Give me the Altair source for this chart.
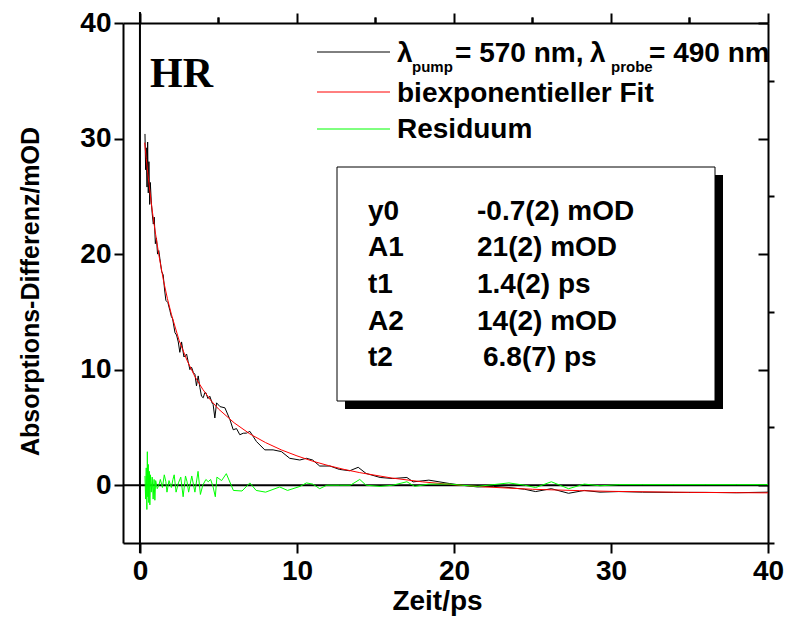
import altair as alt
import pandas as pd

W, H = 645, 520
FONT = "Liberation Sans"

# measured transient (black)
t_data = [0.32, 0.36, 0.40, 0.45, 0.49, 0.53, 0.57, 0.62, 0.66, 0.72, 0.78, 0.85, 0.91, 0.98,
          1.05, 1.12, 1.2, 1.27, 1.38, 1.48, 1.57, 1.65, 1.78, 1.91, 2.0, 2.08, 2.23, 2.33,
          2.44, 2.54, 2.65, 2.8, 2.97, 3.07, 3.18, 3.29, 3.4, 3.5, 3.6, 3.71, 3.82, 3.92,
          4.03, 4.13, 4.2, 4.33, 4.45, 4.6, 4.66, 4.77, 4.88, 5.1, 5.41, 5.73, 5.94, 6.15,
          6.36, 6.58, 6.79, 7.0, 7.42, 7.95, 8.48, 9.01, 9.54, 10.18, 10.6, 11.0, 11.45,
          12.1, 12.7, 13.36, 13.9, 14.4, 15.3, 16.1, 17.0, 17.4, 18.4, 19.7, 20.5, 21.5,
          22.5, 23.5, 24.5, 25.2, 26.2, 27.3, 28.3, 29.3, 30.5, 32, 34, 36, 38, 40]
v_data = [30.4, 27.3, 29.2, 25.8, 29.7, 25.3, 28.0, 24.3, 26.2, 24.6, 23.5, 22.6, 23.2, 20.9,
          21.4, 20.0, 20.3, 19.6, 18.5, 18.2, 16.9, 16.0, 15.8, 15.1, 14.6, 14.4, 13.2, 13.0,
          12.4, 11.5, 12.4, 11.1, 11.35, 10.7, 10.0, 10.2, 9.75, 9.6, 8.6, 9.46, 8.44, 7.7,
          7.57, 8.0, 8.0, 7.5, 7.7, 7.1, 6.99, 5.82, 7.13, 6.8, 6.7, 5.68, 4.8, 4.9,
          4.37, 4.5, 4.51, 4.66, 3.78, 3.06, 3.06, 2.91, 2.33, 2.18, 2.33, 2.18, 1.66,
          1.66, 1.37, 1.25, 1.55, 1.02, 0.67, 0.58, 0.67, 0.29, 0.44, 0.15, 0.0, -0.15,
          -0.1, -0.2, -0.35, -0.55, -0.3, -0.7, -0.45, -0.6, -0.55, -0.6, -0.62, -0.62, -0.65, -0.6]

# biexponential fit (red)
t_fit = [0.3, 0.4, 0.5, 0.6, 0.75, 0.9, 1.0, 1.2, 1.5, 1.75, 2.0, 2.5, 3.0, 3.5, 4.0, 4.5,
         5, 6, 7, 8, 9, 10, 11, 12, 13, 14, 16, 18, 20, 22, 25, 28, 30, 35, 40]
v_fit = [29.65, 28.28, 27.0, 25.8, 24.1, 22.6, 21.7, 19.95, 17.7, 16.14, 14.8, 12.5, 10.8, 9.4,
         8.3, 7.36, 6.6, 5.4, 4.44, 3.69, 3.06, 2.54, 2.08, 1.70, 1.37, 1.09, 0.63, 0.29, 0.04,
         -0.15, -0.35, -0.47, -0.53, -0.62, -0.66]

# residual (green)
t_res = [0.32, 0.36, 0.40, 0.44, 0.47, 0.50, 0.53, 0.56, 0.6, 0.63, 0.67, 0.72, 0.78, 0.84,
         0.9, 0.95, 1.0, 1.1, 1.2, 1.3, 1.43, 1.55, 1.65, 1.72, 1.85, 2.0, 2.1, 2.18, 2.3,
         2.45, 2.6, 2.75, 2.9, 3.0, 3.1, 3.3, 3.5, 3.7, 3.85, 4.0, 4.2, 4.35, 4.5, 4.65, 4.8,
         4.9, 5.2, 5.5, 5.95, 6.5, 7.0, 7.4, 8.0, 8.9, 9.4, 10.2, 10.6, 11.0, 11.45, 11.9,
         12.7, 13.4, 14.0, 14.4, 15.3, 16.1, 17.0, 17.5, 18.4, 19.7, 20.5, 21.5, 22.5, 23.5,
         24.5, 25.2, 26.2, 27.3, 28.3, 29.3, 30.5, 32, 34, 36, 38, 40]
v_res = [0.8, -1.2, 1.5, -2.1, 2.9, -1.0, 1.8, -1.5, 1.2, -1.7, 0.9, -0.6, 0.7, -1.2,
         0.5, -1.3, 0.4, -0.3, 0.0, 0.5, -0.2, 0.9, 0.3, -0.6, 0.4, -0.2, 0.5, 0.9, -0.6,
         0.2, 0.7, -1.0, 0.8, 0.3, -0.6, 0.8, -0.6, 1.2, -0.8, 0.0, 0.5, 0.3, 0.5, -0.1, -1.0,
         0.7, 0.4, 1.0, -0.45, -0.5, 0.2, -0.45, -0.6, -0.15, -0.45, -0.1, 0.2, 0.1, -0.3, 0.0,
         0.0, 0.0, 0.5, 0.0, -0.1, 0.0, 0.3, -0.1, 0.1, 0.1, 0.0, -0.1, 0.05, 0.2,
         0.0, -0.2, 0.3, -0.3, 0.1, -0.05, 0.05, 0.05, 0.05, 0.05, 0.05, 0.05]

major_x = [0, 10, 20, 30, 40]
minor_x = [5, 15, 25, 35]
major_y = [0, 10, 20, 30, 40]
minor_y = [-5, 5, 15, 25, 35]

x_title = "Zeit/ps"
y_title = "Absorptions-Differenz/mOD"
panel_label = "HR"
legend_fit = "biexponentieller Fit"
legend_res = "Residuum"
param_names = ["y0", "A1", "t1", "A2", "t2"]
param_values = ["-0.7(2) mOD", "21(2) mOD", "1.4(2) ps", "14(2) mOD", "6.8(7) ps"]

xs = alt.Scale(domain=[-1.08, 40], nice=False, zero=False)
ys = alt.Scale(domain=[-5, 40], nice=False, zero=False)

data_df = pd.DataFrame({"t": t_data, "v": v_data})
fit_df = pd.DataFrame({"t": t_fit, "v": v_fit})
res_df = pd.DataFrame({"t": t_res, "v": v_res})
zero_df = pd.DataFrame({"t": [0], "v": [0]})
ONE = pd.DataFrame({"d": [0]})

lab = dict(labelFont=FONT, labelFontSize=28, labelFontWeight="bold", labelColor="black")
line = dict(tickColor="black", domainColor="black", tickWidth=2, domainWidth=2, grid=False)

x_main = alt.Axis(values=major_x, tickSize=10, labelPadding=4, labelFlush=False,
                  title=x_title, titleFont=FONT, titleFontSize=28, titleFontWeight="bold",
                  titleColor="black", titleX=314, titleY=66, titleBaseline="alphabetic",
                  **lab, **line)
y_main = alt.Axis(values=major_y, tickSize=9, labelPadding=3, labelFlush=False,
                  title=y_title, titleFont=FONT, titleFontSize=25, titleFontWeight="bold",
                  titleColor="black", titleX=-85, titleY=268, titleBaseline="alphabetic",
                  titleAngle=270, titleAlign="center", **lab, **line)
x_minor = alt.Axis(values=minor_x, tickSize=6, labels=False, domain=False, title=None, **line)
y_minor = alt.Axis(values=minor_y, tickSize=6, labels=False, domain=False, title=None, **line)
x_top = alt.Axis(orient="top", values=major_x, tickSize=10, labels=False, title=None, **line)
x_top_minor = alt.Axis(orient="top", values=minor_x, tickSize=6, labels=False, domain=False,
                       title=None, **line)
y_right = alt.Axis(orient="left", offset=-W, values=major_y, tickSize=10, labels=False,
                   title=None, **line)

zero_line = alt.Chart(zero_df).mark_rule(color="black", strokeWidth=2).encode(
    y=alt.Y("v:Q", scale=ys, axis=None), x=alt.value(0), x2=alt.value(W))

vline = alt.Chart(zero_df).mark_rule(color="black", strokeWidth=2).encode(
    x=alt.X("t:Q", scale=xs, axis=x_top_minor), y=alt.value(-11), y2=alt.value(H + 10))

black = alt.Chart(data_df).mark_line(color="black", strokeWidth=1).encode(
    x=alt.X("t:Q", scale=xs, axis=x_main), y=alt.Y("v:Q", scale=ys, axis=y_main))

red = alt.Chart(fit_df).mark_line(color="#ff0000", strokeWidth=1).encode(
    x=alt.X("t:Q", scale=xs, axis=x_minor), y=alt.Y("v:Q", scale=ys, axis=y_minor))

green = alt.Chart(res_df).mark_line(color="#00ff00", strokeWidth=1).encode(
    x=alt.X("t:Q", scale=xs, axis=x_top), y=alt.Y("v:Q", scale=ys, axis=y_right))


def txt(s, px, py, size=28, font=FONT):
    return alt.Chart(ONE).mark_text(align="left", baseline="alphabetic", font=font,
                                    fontSize=size, fontWeight="bold", color="black").encode(
        x=alt.value(px), y=alt.value(py), text=alt.value(s))


def seg(color, py):
    return alt.Chart(ONE).mark_rule(color=color, strokeWidth=1).encode(
        x=alt.value(194), x2=alt.value(267), y=alt.value(py))


legend = [
    seg("black", 29), seg("#ff0000", 69), seg("#00ff00", 106),
    txt("λ", 274, 39), txt("pump", 289, 49, size=15), txt("= 570 nm,", 332, 39),
    txt("λ", 467, 39), txt("probe", 488, 49, size=15), txt("= 490 nm", 526, 39),
    txt(legend_fit, 274, 79), txt(legend_res, 274, 115),
]

shadow = alt.Chart(ONE).mark_rect(color="black").encode(
    x=alt.value(222), x2=alt.value(600), y=alt.value(152), y2=alt.value(386))
box = alt.Chart(ONE).mark_rect(fill="white", stroke="black", strokeWidth=1).encode(
    x=alt.value(214), x2=alt.value(592), y=alt.value(144), y2=alt.value(378))

rows_y = [197, 233, 270, 307, 343]
params = []
for i, (n, v) in enumerate(zip(param_names, param_values)):
    params.append(txt(n, 245, rows_y[i]))
    params.append(txt(v, 354 if i < 4 else 360, rows_y[i]))

hr = txt(panel_label, 27, 64, size=42, font="Liberation Serif")

chart = alt.layer(
    zero_line, black, red, green, vline, shadow, box, hr, *legend, *params
).resolve_axis(x="independent", y="independent").properties(
    width=W, height=H,
    autosize=alt.AutoSizeParams(type="none"),
    padding={"left": 123, "top": 23, "right": 19, "bottom": 75},
    background="white",
).configure_view(stroke=None)

chart.save("out.html", embed_options={"renderer": "svg", "actions": False})
